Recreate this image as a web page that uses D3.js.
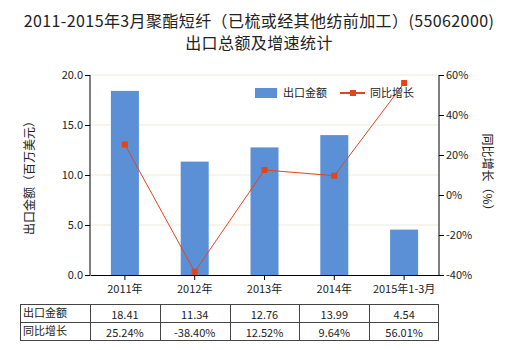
<!DOCTYPE html>
<html><head><meta charset="utf-8">
<script src="https://cdn.jsdelivr.net/npm/d3@7"></script>
<style>body{margin:0;background:#fff}svg{display:block}text{font-family:"Noto Sans CJK SC","Noto Sans",sans-serif}</style>
</head><body>
<script>
const categories = ["2011年","2012年","2013年","2014年","2015年1-3月"];
const exportValues = [18.41,11.34,12.76,13.99,4.54];
const growthValues = [25.24,-38.40,12.52,9.64,56.01];
const exportLabels = ["18.41","11.34","12.76","13.99","4.54"];
const growthLabels = ["25.24%","-38.40%","12.52%","9.64%","56.01%"];
const leftTicks = [0,5,10,15,20];
const rightTicks = [-40,-20,0,20,40,60];
const titleLines = ["2011-2015年3月聚酯短纤（已梳或经其他纺前加工）(55062000)","出口总额及增速统计"];
const rowNames = ["出口金额","同比增长"];

const W=520,H=350, L=90, R=439, T=75, B=275;
const svg=d3.select("body").append("svg").attr("width",W).attr("height",H);
const barColor="#5b8fd6", lineColor="#e0461a";

svg.selectAll("text.title").data(titleLines).enter().append("text")
 .attr("x",259).attr("y",(d,i)=>27+i*22).attr("text-anchor","middle")
 .attr("font-size",16).attr("letter-spacing",0.4).attr("fill","#222").text(d=>d);

const xc=d3.scaleBand().domain(categories).range([L,R]);
const yL=d3.scaleLinear().domain([0,20]).range([B,T]);
const yR=d3.scaleLinear().domain([-40,60]).range([B,T]);

// grid
svg.selectAll("line.grid").data(leftTicks.slice(1)).enter().append("line")
 .attr("x1",L).attr("x2",R).attr("y1",d=>yL(d)).attr("y2",d=>yL(d))
 .attr("stroke","#ebebdc").attr("stroke-width",1);

// bars
svg.selectAll("rect.bar").data(exportValues).enter().append("rect")
 .attr("x",(d,i)=>xc(categories[i])+xc.bandwidth()/2-14).attr("width",28)
 .attr("y",d=>yL(d)).attr("height",d=>B-yL(d)).attr("fill",barColor);

// axes
const axL=svg.append("g").attr("transform",`translate(${L},0)`)
 .call(d3.axisLeft(yL).tickValues(leftTicks).tickFormat(d3.format(".1f")).tickSize(5).tickPadding(2));
const axR=svg.append("g").attr("transform",`translate(${R},0)`)
 .call(d3.axisRight(yR).tickValues(rightTicks).tickFormat(d=>d+"%").tickSize(5).tickPadding(2));
const axB=svg.append("g").attr("transform",`translate(0,${B})`)
 .call(d3.axisBottom(xc).tickSize(5).tickPadding(5).tickSizeOuter(0));
[axL,axR,axB].forEach(a=>{a.selectAll("path,line").attr("stroke","#000");a.selectAll("text").attr("font-size",11).attr("fill","#222").style("font-family","'Noto Sans CJK SC',sans-serif");});
axL.select("path").attr("d",`M0,${T}V${B}`);
axR.select("path").attr("d",`M0,${T}V${B}`);

// line
const line=d3.line().x((d,i)=>xc(categories[i])+xc.bandwidth()/2).y(d=>yR(d));
svg.append("path").datum(growthValues).attr("d",line).attr("fill","none").attr("stroke",lineColor).attr("stroke-width",1);
svg.selectAll("rect.pt").data(growthValues).enter().append("rect")
 .attr("x",(d,i)=>xc(categories[i])+xc.bandwidth()/2-3).attr("y",d=>yR(d)-3)
 .attr("width",6).attr("height",6).attr("fill",lineColor);

// axis titles
svg.append("text").attr("transform","translate(34,175) rotate(-90)").attr("text-anchor","middle")
 .attr("font-size",12).attr("fill","#222").text("出口金额（百万美元）");
svg.append("text").attr("transform","translate(483,175) rotate(90)").attr("text-anchor","middle")
 .attr("font-size",12).attr("fill","#222").text("同比增长（%）");

// legend
svg.append("rect").attr("x",255).attr("y",88).attr("width",22).attr("height",10).attr("fill",barColor);
svg.append("text").attr("x",283).attr("y",97).attr("font-size",11).attr("fill","#222").text("出口金额");
svg.append("line").attr("x1",340).attr("x2",365).attr("y1",93).attr("y2",93).attr("stroke",lineColor).attr("stroke-width",2);
svg.append("rect").attr("x",350).attr("y",90).attr("width",6).attr("height",6).attr("fill",lineColor);
svg.append("text").attr("x",370).attr("y",97).attr("font-size",11).attr("fill","#222").text("同比增长");

// table
const tT=304, tM=322, tB=340, tL=20;
const tg=svg.append("g");
tg.append("rect").attr("x",tL+0.5).attr("y",tT+0.5).attr("width",R-tL-1).attr("height",tB-tT).attr("fill","none").attr("stroke","#444");
tg.append("line").attr("x1",tL).attr("x2",R-0.5).attr("y1",tM+0.5).attr("y2",tM+0.5).attr("stroke","#444");
categories.forEach((c,i)=>{
  const xx=Math.round(xc(c))+0.5;
  tg.append("line").attr("x1",xx).attr("x2",xx).attr("y1",tT).attr("y2",tB).attr("stroke","#444");
});
[exportLabels,growthLabels].forEach((arr,r)=>{
  tg.append("text").attr("x",tL+3).attr("y",(r?tM:tT)+13).attr("font-size",11).attr("fill","#222").text(rowNames[r]);
  arr.forEach((v,i)=>{
    tg.append("text").attr("x",xc(categories[i])+xc.bandwidth()/2).attr("y",(r?tM:tT)+15)
     .attr("text-anchor","middle").attr("font-size",11).attr("fill","#222").text(v);
  });
});
</script>
</body></html>
